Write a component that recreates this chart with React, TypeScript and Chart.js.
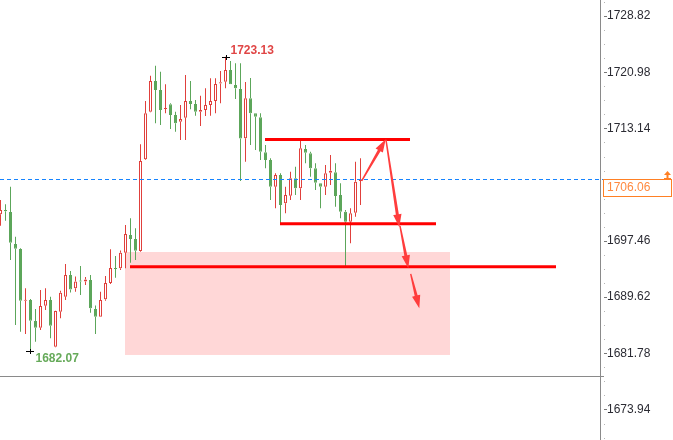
import React, { useEffect, useRef } from "react";
import { Chart, registerables } from "chart.js";

Chart.register(...registerables);

// ---- OHLC data (one candle per slot, oldest first) ----
const opens = [
  1701.16, 1701.76, 1701.48, 1697.02, 1696.32, 1689.11, 1689.21, 1686.28, 1685.35, 1688.41,
  1689.21, 1682.70, 1687.58, 1689.67, 1692.70, 1690.84, 1691.90, 1691.79, 1692.00, 1687.95,
  1686.88, 1689.31, 1691.58, 1693.65, 1693.63, 1695.81, 1698.27, 1697.72, 1696.04, 1708.83,
  1715.47, 1719.75, 1718.50, 1715.85, 1716.50, 1715.01, 1714.08, 1714.63, 1716.96, 1716.55,
  1715.47, 1715.71, 1716.41, 1716.96, 1719.40, 1719.66, 1721.29, 1719.20, 1718.64, 1711.76,
  1717.34, 1715.25, 1714.69, 1709.81, 1708.73, 1705.01, 1706.64, 1702.70, 1703.76, 1706.18,
  1704.79, 1710.27, 1709.67, 1707.58, 1705.49, 1705.01, 1706.96, 1707.02, 1703.85, 1701.52,
  1700.13, 1701.38, 1705.82,
];
const highs = [
  1703.16, 1702.56, 1705.01, 1698.04, 1696.42, 1690.84, 1689.35, 1687.95, 1690.60, 1690.84,
  1689.67, 1687.72, 1690.51, 1694.23, 1693.25, 1692.49, 1693.95, 1692.42, 1692.70, 1688.44,
  1690.37, 1692.56, 1696.28, 1695.35, 1696.11, 1699.67, 1700.60, 1699.21, 1710.92, 1716.96,
  1720.49, 1721.89, 1721.05, 1719.29, 1716.64, 1715.47, 1716.41, 1720.59, 1719.75, 1717.10,
  1717.70, 1718.73, 1720.13, 1720.13, 1721.15, 1723.13, 1722.54, 1722.22, 1722.22, 1719.61,
  1720.17, 1715.25, 1715.25, 1710.83, 1708.97, 1706.88, 1706.88, 1705.01, 1707.10, 1707.80,
  1711.52, 1710.83, 1709.89, 1708.27, 1705.49, 1708.04, 1709.43, 1708.27, 1705.49, 1701.76,
  1702.00, 1708.50, 1708.97,
];
const lows = [
  1699.57, 1700.27, 1694.79, 1685.72, 1684.79, 1684.47, 1682.07, 1683.39, 1685.02, 1687.81,
  1683.87, 1682.61, 1686.66, 1689.21, 1690.26, 1690.37, 1689.91, 1691.30, 1687.44, 1684.47,
  1686.88, 1689.11, 1691.44, 1692.32, 1693.39, 1693.63, 1694.41, 1694.79, 1695.95, 1708.73,
  1715.39, 1713.85, 1713.62, 1715.25, 1713.06, 1712.68, 1711.52, 1711.52, 1715.81, 1714.91,
  1713.48, 1714.87, 1714.91, 1715.25, 1716.64, 1718.73, 1719.29, 1717.24, 1705.81, 1708.50,
  1710.83, 1710.13, 1708.73, 1707.58, 1703.16, 1702.00, 1699.91, 1701.30, 1703.16, 1703.85,
  1703.16, 1708.27, 1706.41, 1704.55, 1702.00, 1703.85, 1705.25, 1702.22, 1700.60, 1693.85,
  1697.12, 1700.83, 1702.46,
];
const closes = [
  1701.76, 1701.58, 1697.20, 1696.36, 1689.11, 1689.21, 1686.32, 1685.35, 1688.37, 1689.21,
  1685.62, 1687.67, 1690.23, 1692.70, 1690.67, 1691.79, 1691.79, 1692.07, 1688.05, 1686.88,
  1689.21, 1691.58, 1693.67, 1693.53, 1695.81, 1698.41, 1697.72, 1696.08, 1708.60, 1715.25,
  1719.75, 1718.50, 1715.71, 1715.95, 1715.01, 1713.85, 1714.45, 1716.96, 1716.55, 1715.47,
  1715.71, 1716.41, 1716.96, 1719.33, 1719.57, 1721.29, 1719.29, 1718.73, 1711.73, 1717.34,
  1715.25, 1714.77, 1709.89, 1708.73, 1705.01, 1706.64, 1702.46, 1703.85, 1706.18, 1704.79,
  1710.37, 1709.75, 1707.58, 1705.57, 1705.01, 1706.88, 1707.24, 1703.71, 1701.52, 1700.13,
  1701.30, 1705.71, 1706.06,
];

// ---- price axis ----
const lastPrice = 1706.06;
const axisLabelBase = 1673.94;
const axisLabelStep = 7.84;
const minorPerMajor = 4;
const priceMin = 1669.68;
const priceMax = 1731.05;
const paneBottomPrice = 1678.61;
const slotMin = -0.1;
const slotMax = 119.9;

// ---- drawn analysis (in slot index / price units) ----
const zoneSlots = [24.9, 89.9];
const zonePrices = [1681.54, 1695.9];
const levelPrices = [1711.6, 1699.85, 1693.84];
const levelStarts = [52.9, 55.9, 25.9];
const levelEnds = [81.9, 87.1, 111.1];
const arrowStartSlots = [72.24, 77.1, 79.9, 82.04];
const arrowStartPrices = [1705.81, 1711.53, 1699.53, 1692.84];
const arrowEndSlots = [77.04, 79.76, 81.56, 83.76];
const arrowEndPrices = [1711.63, 1699.35, 1693.63, 1688.05];

const RED = "#e0403c";
const GREEN = "#5ca65a";
const PRICE_LINE = "#1684ff";
const FONT = '"Liberation Sans", Arial, sans-serif';

function isMajor(v: number) {
  const k = (v - axisLabelBase) / axisLabelStep;
  return Math.abs(k - Math.round(k)) < 1e-6;
}

function drawArrow(ctx: CanvasRenderingContext2D, x0: number, y0: number, x1: number, y1: number) {
  const dx = x1 - x0;
  const dy = y1 - y0;
  const len = Math.hypot(dx, dy);
  const ux = dx / len;
  const uy = dy / len;
  const nx = -uy;
  const ny = ux;
  const headLen = 13;
  const headW = 4.2;
  const bx = x1 - ux * headLen;
  const by = y1 - uy * headLen;
  ctx.beginPath();
  ctx.moveTo(x0 + nx * 0.7, y0 + ny * 0.7);
  ctx.lineTo(bx + nx * 1.5, by + ny * 1.5);
  ctx.lineTo(bx + nx * headW, by + ny * headW);
  ctx.lineTo(x1, y1);
  ctx.lineTo(bx - nx * headW, by - ny * headW);
  ctx.lineTo(bx - nx * 1.5, by - ny * 1.5);
  ctx.lineTo(x0 - nx * 0.7, y0 - ny * 0.7);
  ctx.closePath();
  ctx.fill();
}

const overlayPlugin = {
  id: "overlay",
  beforeDatasetsDraw(chart: any) {
    const { ctx, scales } = chart;
    const x = scales.x;
    const y = scales.y;
    ctx.save();
    ctx.fillStyle = "#ffd7d7";
    const x0 = x.getPixelForValue(zoneSlots[0]);
    const x1 = x.getPixelForValue(zoneSlots[1]);
    const y0 = y.getPixelForValue(zonePrices[1]);
    const y1 = y.getPixelForValue(zonePrices[0]);
    ctx.fillRect(x0, y0, x1 - x0, y1 - y0);
    ctx.restore();
  },
  afterDatasetsDraw(chart: any) {
    const { ctx, scales, chartArea } = chart;
    const x = scales.x;
    const y = scales.y;
    ctx.save();
    // current price dashed line (drawn as 1px dashes)
    const py = Math.round(y.getPixelForValue(lastPrice));
    ctx.fillStyle = PRICE_LINE;
    for (let dx = chartArea.left; dx < chartArea.right + 3; dx += 7) {
      ctx.fillRect(dx, py, 4, 1);
    }

    // level lines
    ctx.strokeStyle = "#ff0000";
    ctx.lineWidth = 3;
    levelPrices.forEach((p, i) => {
      const ly = y.getPixelForValue(p);
      ctx.beginPath();
      ctx.moveTo(x.getPixelForValue(levelStarts[i]), ly);
      ctx.lineTo(x.getPixelForValue(levelEnds[i]), ly);
      ctx.stroke();
    });

    // arrows
    ctx.fillStyle = "#ff3d3d";
    arrowStartSlots.forEach((s, i) => {
      drawArrow(
        ctx,
        x.getPixelForValue(s),
        y.getPixelForValue(arrowStartPrices[i]),
        x.getPixelForValue(arrowEndSlots[i]),
        y.getPixelForValue(arrowEndPrices[i])
      );
    });

    // high / low markers
    let hi = 0;
    let lo = 0;
    highs.forEach((v, i) => { if (v > highs[hi]) hi = i; });
    lows.forEach((v, i) => { if (v < lows[lo]) lo = i; });
    const drawCross = (cx: number, cy: number) => {
      ctx.strokeStyle = "#000";
      ctx.lineWidth = 1;
      ctx.beginPath();
      ctx.moveTo(Math.round(cx) - 4, Math.round(cy) + 0.5);
      ctx.lineTo(Math.round(cx) + 4, Math.round(cy) + 0.5);
      ctx.moveTo(Math.round(cx) + 0.5, Math.round(cy) - 2);
      ctx.lineTo(Math.round(cx) + 0.5, Math.round(cy) + 3);
      ctx.stroke();
    };
    const hx = x.getPixelForValue(hi);
    const hy = y.getPixelForValue(highs[hi]);
    const lx = x.getPixelForValue(lo);
    const lyy = y.getPixelForValue(lows[lo]);
    drawCross(hx, hy);
    drawCross(lx, lyy);
    ctx.font = `bold 12px ${FONT}`;
    ctx.textBaseline = "middle";
    ctx.textAlign = "left";
    ctx.fillStyle = "#e04646";
    ctx.fillText(highs[hi].toFixed(2), hx + 5, hy - 6.5);
    ctx.fillStyle = "#66aa5a";
    ctx.fillText(lows[lo].toFixed(2), lx + 5, lyy + 8);
    ctx.restore();
  },
  afterDraw(chart: any) {
    const { ctx, scales, chartArea } = chart;
    const y = scales.y;
    ctx.save();
    // axis tick marks
    y.ticks.forEach((t: any) => {
      const ty = Math.round(y.getPixelForValue(t.value));
      if (isMajor(t.value)) {
        ctx.fillStyle = "#777";
        ctx.fillRect(chartArea.right + 4, ty, 3, 1);
      } else {
        ctx.fillStyle = "#b5b5b5";
        ctx.fillRect(chartArea.right + 4, ty, 1, 1);
      }
    });
    // pane separator
    const sy = Math.round(y.getPixelForValue(paneBottomPrice)) + 0.5;
    ctx.strokeStyle = "#8a8a8a";
    ctx.lineWidth = 1;
    ctx.beginPath();
    ctx.moveTo(chartArea.left, sy);
    ctx.lineTo(chartArea.right + 4, sy);
    ctx.stroke();

    // last price box
    const py = Math.round(y.getPixelForValue(lastPrice));
    const bx = chartArea.right + 3.5;
    ctx.fillStyle = "#ffffff";
    ctx.fillRect(bx, py + 0.5, 68, 17);
    ctx.strokeStyle = "#ff8024";
    ctx.strokeRect(bx, py + 0.5, 68, 17);
    ctx.fillStyle = "#ff8a40";
    ctx.font = `12px ${FONT}`;
    ctx.textBaseline = "middle";
    ctx.textAlign = "left";
    ctx.fillText(lastPrice.toFixed(2), chartArea.right + 7, py + 9);
    // small arrow icon
    const ax = chartArea.right + 67.5;
    ctx.fillStyle = "#ff8024";
    ctx.beginPath();
    ctx.moveTo(ax - 3.5, py - 4);
    ctx.lineTo(ax, py - 8);
    ctx.lineTo(ax + 3.5, py - 4);
    ctx.closePath();
    ctx.fill();
    ctx.fillRect(ax - 1, py - 4, 2, 3);
    ctx.fillRect(ax - 3.5, py - 1, 7, 1);
    ctx.restore();
  },
};

export default function App() {
  const canvasRef = useRef<HTMLCanvasElement | null>(null);

  useEffect(() => {
    document.body.style.margin = "0";
    const canvas = canvasRef.current;
    if (!canvas) return;

    const up = closes.map((c, i) => c >= opens[i]);
    const colors = up.map((u) => (u ? RED : GREEN));
    const bodies = opens.map((o, i) => ({ x: i, y: [o, closes[i]] }));
    const upperWicks = opens.map((o, i) => ({ x: i, y: [Math.max(o, closes[i]), highs[i]] }));
    const lowerWicks = opens.map((o, i) => ({ x: i, y: [lows[i], Math.min(o, closes[i])] }));

    const chart = new Chart(canvas, {
      type: "bar",
      data: {
        datasets: [
          {
            label: "body",
            data: bodies as any,
            backgroundColor: up.map((u) => (u ? "rgba(255,255,255,0)" : GREEN)),
            borderColor: colors,
            borderWidth: 1,
            borderSkipped: false,
            inflateAmount: 0,
            barThickness: 3,
            minBarLength: 1,
            grouped: false,
            order: 1,
          } as any,
          {
            label: "upper",
            data: upperWicks as any,
            backgroundColor: colors,
            borderWidth: 0,
            inflateAmount: 0,
            barThickness: 1,
            grouped: false,
            order: 2,
          } as any,
          {
            label: "lower",
            data: lowerWicks as any,
            backgroundColor: colors,
            borderWidth: 0,
            inflateAmount: 0,
            barThickness: 1,
            grouped: false,
            order: 3,
          } as any,
        ],
      },
      options: {
        animation: false,
        responsive: false,
        maintainAspectRatio: false,
        layout: { padding: 0 },
        plugins: { legend: { display: false }, tooltip: { enabled: false } },
        scales: {
          x: {
            type: "linear",
            min: slotMin,
            max: slotMax,
            display: false,
            offset: false,
          },
          y: {
            position: "right",
            min: priceMin,
            max: priceMax,
            afterFit: (scale: any) => {
              scale.width = 73;
              scale.paddingTop = 0;
              scale.paddingBottom = 0;
            },
            afterBuildTicks: (scale: any) => {
              const step = axisLabelStep / minorPerMajor;
              const ticks: any[] = [];
              for (let k = -8; k <= 40; k++) {
                const v = axisLabelBase + k * step;
                if (v >= priceMin && v <= priceMax) ticks.push({ value: v });
              }
              scale.ticks = ticks;
            },
            ticks: {
              autoSkip: false,
              padding: 7,
              color: "#2b2b33",
              font: { family: FONT, size: 12 },
              callback: (v: any) => (isMajor(Number(v)) ? Number(v).toFixed(2) : ""),
            },
            grid: { display: false, drawTicks: false },
            border: { display: true, color: "#8a8a8a", width: 1 },
          },
        },
      } as any,
      plugins: [overlayPlugin],
    });

    return () => chart.destroy();
  }, []);

  return (
    <div style={{ width: 673, height: 440 }}>
      <canvas ref={canvasRef} width={673} height={440} style={{ display: "block" }} />
    </div>
  );
}
